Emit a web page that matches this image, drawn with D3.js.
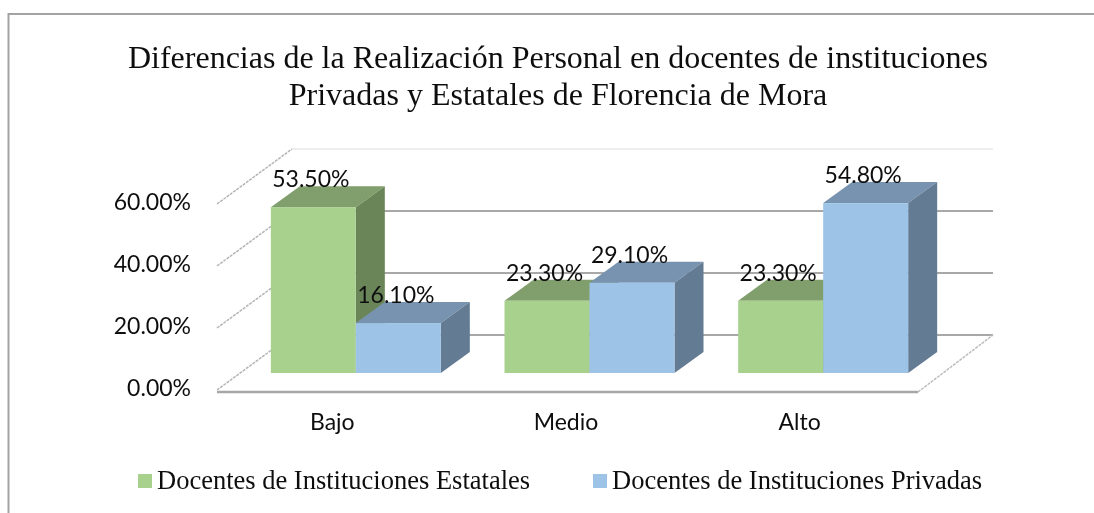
<!DOCTYPE html>
<html><head><meta charset="utf-8">
<script src="https://cdn.jsdelivr.net/npm/d3@7"></script>
<style>html,body{margin:0;padding:0;background:#fff}svg{display:block}</style>
</head><body><svg id="c" width="1094" height="513"></svg>
<script>
const titleLines=["Diferencias de la Realización Personal en docentes de instituciones","Privadas y Estatales de Florencia de Mora"];
const categories=["Bajo","Medio","Alto"];
const seriesNames=["Docentes de Instituciones Estatales","Docentes de Instituciones Privadas"];
const estatales=[53.5,23.3,23.3];
const privadas=[16.1,29.1,54.8];
const yTicks=[0,20,40,60];
const colors=[{front:"#a9d18e",top:"#819e6d",side:"#6b8659"},{front:"#9dc3e6",top:"#7893b0",side:"#647b94"}];
const serif="'Liberation Serif'", sans="Lato", ink="#111";

const root=d3.select("#c");
root.append("defs").append("filter").attr("id","soft").attr("x",0).attr("y",0).attr("width","100%").attr("height","100%")
  .attr("filterUnits","userSpaceOnUse").attr("x",0).attr("y",0).attr("width",1094).attr("height",513)
  .append("feGaussianBlur").attr("stdDeviation",0.45);
const svg=root.append("g").attr("filter","url(#soft)");
const frame=svg.append("g").attr("stroke","#a3a3a3").attr("stroke-width",2);
frame.append("line").attr("x1",8.5).attr("y1",14).attr("x2",1094).attr("y2",14);
frame.append("line").attr("x1",8.5).attr("y1",13).attr("x2",8.5).attr("y2",513);

const t=svg.append("text").attr("font-family",serif).attr("font-size",32).attr("text-anchor","middle").attr("fill",ink);
titleLines.forEach((l,i)=>t.append("tspan").attr("x",558).attr("y",68+i*37).text(l));

const left=217,right=918;
const y=d3.scaleLinear().domain([0,60]).range([390,204]);
const x=d3.scaleBand().domain(categories).range([left,right]);
const depth={dx:75,dy:-55};
const grid=svg.append("g");
yTicks.forEach(v=>{
  grid.append("line").attr("x1",left).attr("y1",y(v)).attr("x2",left+depth.dx).attr("y2",y(v)+depth.dy).attr("stroke","#b4b4b4").attr("stroke-width",1.5).attr("stroke-dasharray","3 1");
  grid.append("line").attr("x1",left+depth.dx).attr("y1",y(v)+depth.dy).attr("x2",right+depth.dx).attr("y2",y(v)+depth.dy).attr("stroke",v===60?"#eeeeee":"#a8a8a8").attr("stroke-width",2);
});
grid.append("line").attr("x1",right).attr("y1",y(0)+2).attr("x2",right+depth.dx).attr("y2",y(0)+depth.dy).attr("stroke","#bcbcbc").attr("stroke-width",1.5).attr("stroke-dasharray","3 1");
grid.append("line").attr("x1",left).attr("y1",y(0)+2).attr("x2",right).attr("y2",y(0)+2).attr("stroke","#a6a6a6").attr("stroke-width",2.5);

svg.append("g").selectAll("text").data(yTicks).join("text").attr("x",191).attr("y",d=>y(d)+6).attr("text-anchor","end")
 .attr("font-family",sans).attr("font-size",23).attr("fill",ink).text(d=>d3.format(".2f")(d)+"%");

const bw=85, dX=29, dY=-21, offX=22, offY=-17;
const base=y(0)+offY, h=d=>y(0)-y(d);
const barG=svg.append("g"), labG=svg.append("g");
const mid=c=>x(c)+x.bandwidth()/2+offX;
function bar(c,s,v){
  const x0=mid(c)+(s-1)*bw, x1=x0+bw, top=base-h(v), col=colors[s];
  const g=barG.append("g");
  g.append("polygon").attr("points",[[x0,top],[x0+dX,top+dY],[x1+dX,top+dY],[x1,top]].join(" ")).attr("fill",col.top);
  g.append("polygon").attr("points",[[x1,top],[x1+dX,top+dY],[x1+dX,base+dY],[x1,base]].join(" ")).attr("fill",col.side);
  g.append("rect").attr("x",x0).attr("y",top).attr("width",bw).attr("height",base-top).attr("fill",col.front);
  labG.append("text").attr("x",x0+40).attr("y",top-20).attr("text-anchor","middle").attr("font-family",sans).attr("font-size",23).attr("fill",ink).text(v.toFixed(2)+"%");
}
categories.forEach((c,i)=>{bar(c,0,estatales[i]);bar(c,1,privadas[i]);});

svg.append("g").selectAll("text").data(categories).join("text").attr("x",c=>x(c)+x.bandwidth()/2-1.5).attr("y",430).attr("text-anchor","middle")
 .attr("font-family",sans).attr("font-size",23).attr("fill",ink).text(d=>d);

const legX=[138,593];
seriesNames.forEach((n,i)=>{
  svg.append("rect").attr("x",legX[i]).attr("y",474).attr("width",14).attr("height",14).attr("fill",colors[i].front);
  svg.append("text").attr("x",legX[i]+19).attr("y",489).attr("font-family",serif).attr("font-size",26.5).attr("fill",ink).text(n);
});
</script></body></html>
